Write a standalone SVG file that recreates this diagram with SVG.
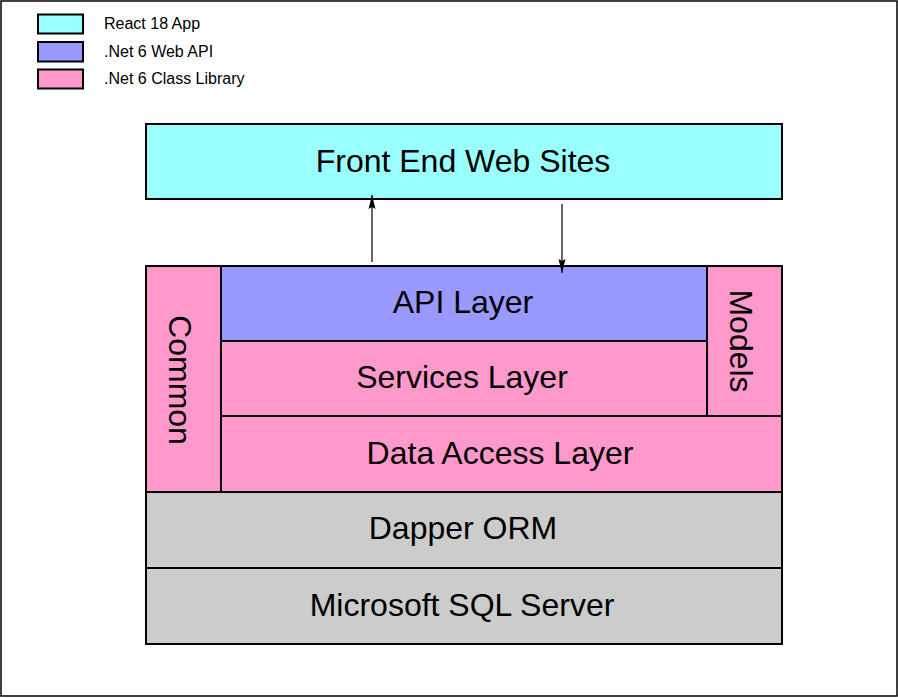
<svg xmlns="http://www.w3.org/2000/svg" width="898" height="698" viewBox="0 0 898 698">
<style>
.box{stroke:#000;stroke-width:2}
.react{fill:#99FFFF}
.api{fill:#9999FF}
.lib{fill:#FF99CC}
.db{fill:#CCCCCC}
.lbl{font-family:"Liberation Sans",Arial,sans-serif;font-size:32px;fill:#000;text-anchor:middle;dominant-baseline:central}
.leg{font-family:"Liberation Sans",Arial,sans-serif;font-size:16px;fill:#000}
.conn{stroke:#000;stroke-width:1.2;fill:none}
</style>
<defs>
<marker id="ah" viewBox="0 0 14 8" refX="14" refY="4" markerWidth="14" markerHeight="8" orient="auto" markerUnits="userSpaceOnUse">
<path d="M0,0.5 L14,4 L0,7.5 L2,4 Z" fill="#000"/>
</marker>
</defs>
<rect x="0" y="0" width="898" height="698" fill="#fff"/>
<rect x="1" y="1" width="896" height="695" fill="#fff" stroke="#000" stroke-width="1.5"/>
<g id="legend">
<rect class="box react" x="38" y="14.5" width="45" height="19" stroke-width="1.5"/>
<text class="leg" x="104" y="29">React 18 App</text>
<rect class="box api" x="38" y="42" width="45" height="19.5" stroke-width="1.5"/>
<text class="leg" x="104" y="56.5">.Net 6 Web API</text>
<rect class="box lib" x="38" y="69.5" width="45" height="19" stroke-width="1.5"/>
<text class="leg" x="104" y="83.5">.Net 6 Class Library</text>
</g>
<g id="frontend">
<rect class="box react" x="146" y="124" width="636" height="75"/>
<text class="lbl" x="463" y="161">Front End Web Sites</text>
</g>
<g id="api">
<rect class="box api" x="221" y="266" width="486" height="75"/>
<text class="lbl" x="463" y="302">API Layer</text>
</g>
<g id="services">
<rect class="box lib" x="221" y="341" width="486" height="75"/>
<text class="lbl" x="462" y="377">Services Layer</text>
</g>
<g id="dataaccess">
<rect class="box lib" x="221" y="416" width="561" height="76"/>
<text class="lbl" x="500" y="453">Data Access Layer</text>
</g>
<g id="common">
<rect class="box lib" x="146" y="266" width="75" height="226"/>
<text class="lbl" transform="translate(180,380) rotate(90)" x="0" y="0">Common</text>
</g>
<g id="models">
<rect class="box lib" x="707" y="266" width="75" height="150"/>
<text class="lbl" transform="translate(741,341) rotate(90)" x="0" y="0">Models</text>
</g>
<g id="dapper">
<rect class="box db" x="146" y="492" width="636" height="76"/>
<text class="lbl" x="463" y="528">Dapper ORM</text>
</g>
<g id="sqlserver">
<rect class="box db" x="146" y="568" width="636" height="76"/>
<text class="lbl" x="462" y="605">Microsoft SQL Server</text>
</g>
<g id="connectors">
<line class="conn" x1="372" y1="262" x2="372" y2="195" marker-end="url(#ah)"/>
<line class="conn" x1="562" y1="204" x2="562" y2="273" marker-end="url(#ah)"/>
</g>
</svg>
